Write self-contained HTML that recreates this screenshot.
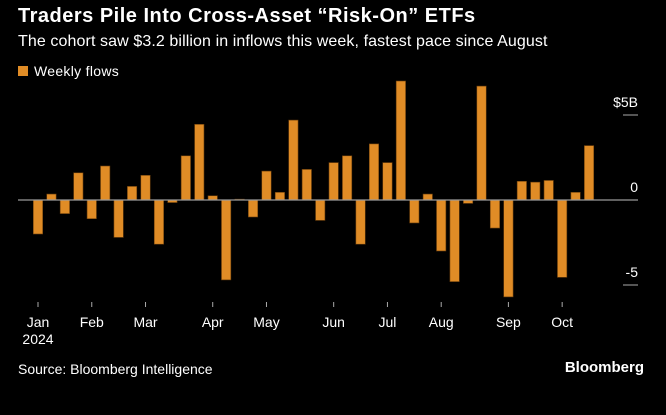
<!DOCTYPE html>
<html><head><meta charset="utf-8"><style>
body{margin:0;background:#000;width:666px;height:415px;overflow:hidden;font-family:"Liberation Sans",sans-serif;color:#fff;position:relative}
.t{position:absolute;white-space:nowrap}
</style></head><body>
<div class="t" style="left:18px;top:5px;font-size:20px;letter-spacing:0.5px;font-weight:bold">Traders Pile Into Cross-Asset “Risk-On” ETFs</div>
<div class="t" style="left:18px;top:33px;font-size:16px;letter-spacing:0.1px">The cohort saw $3.2 billion in inflows this week, fastest pace since August</div>
<div class="t" style="left:18px;top:63px;font-size:14px;letter-spacing:0.3px"><span style="display:inline-block;width:10px;height:10px;background:#e08c26;margin-right:6px"></span>Weekly flows</div>
<svg id="c" width="666" height="415" style="position:absolute;left:0;top:0"></svg>
<div class="t" style="left:18px;top:361px;font-size:14px">Source: Bloomberg Intelligence</div>
<div class="t" style="right:22px;top:359px;font-size:15px;font-weight:bold">Bloomberg</div>
<script>
const values=[-2.0,0.35,-0.8,1.6,-1.1,2.0,-2.2,0.8,1.45,-2.6,-0.15,2.6,4.45,0.25,-4.7,0.05,-1.0,1.7,0.45,4.7,1.8,-1.2,2.2,2.6,-2.6,3.3,2.2,7.0,-1.35,0.35,-3.0,-4.8,-0.2,6.7,-1.65,-5.7,1.1,1.05,1.15,-4.55,0.45,3.2];
const monthLabels=["Jan","Feb","Mar","Apr","May","Jun","Jul","Aug","Sep","Oct"];
const monthIdx=[0,4,8,13,17,22,26,30,35,39];
const yTicks=[5,0,-5];
const yTickLabels=["$5B","0","-5"];
const svg=document.getElementById('c');const NS='http://www.w3.org/2000/svg';
const y=v=>200-v*17;const x=i=>38+i*13.44;
function mk(t,a){const e=document.createElementNS(NS,t);for(const k in a)e.setAttribute(k,a[k]);svg.appendChild(e);return e;}
values.forEach((v,i)=>{const r=mk('rect',{x:x(i)-4.7,y:Math.min(y(v),y(0)),width:9.4,height:Math.abs(y(v)-y(0)),fill:'#e08c26',stroke:'#6a3e0c','stroke-width':0.6});

});
const z=mk('line',{x1:18,x2:638,y1:y(0),y2:y(0),stroke:'#999','stroke-width':1.2});


yTicks.forEach((v,k)=>{const t=mk('text',{x:638,y:y(v)-8,'text-anchor':'end',fill:'#fff','font-size':14,'font-family':'Liberation Sans'});t.textContent=yTickLabels[k];


if(v!==0){const l=mk('line',{x1:623,x2:638,y1:y(v),y2:y(v),stroke:'#aaa','stroke-width':1});

}});
monthIdx.forEach((m,k)=>{const l=mk('line',{x1:x(m),x2:x(m),y1:302,y2:307,stroke:'#aaa','stroke-width':1});


const t=mk('text',{x:x(m),y:327,'text-anchor':'middle',fill:'#fff','font-size':14,'font-family':'Liberation Sans'});t.textContent=monthLabels[k];

});
const yr=mk('text',{x:x(0),y:344,'text-anchor':'middle',fill:'#fff','font-size':14,'font-family':'Liberation Sans'});yr.textContent='2024';


</script>
</body></html>
